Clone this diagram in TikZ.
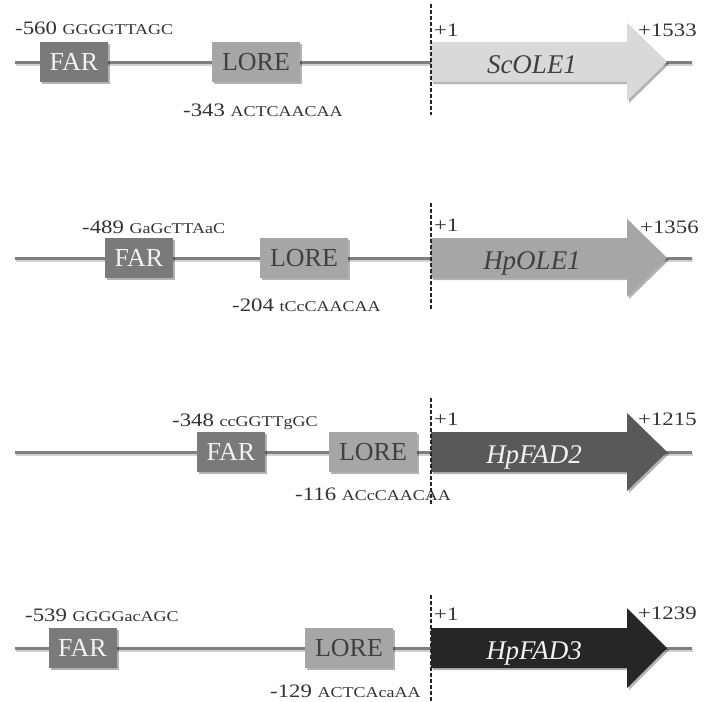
\documentclass[tikz,border=0pt]{standalone}
\usepackage{fontspec}
\setmainfont{Liberation Serif}
\newfontfamily\numfont[FakeStretch=1.2]{Liberation Serif}
\usetikzlibrary{shadows}
\definecolor{linegray}{HTML}{7F7F7F}
\definecolor{fargray}{HTML}{7A7A7A}
\definecolor{loregray}{HTML}{A6A6A6}
\definecolor{loretext}{HTML}{404040}
\definecolor{labtext}{HTML}{333333}
\definecolor{geneA}{HTML}{D9D9D9}
\definecolor{geneB}{HTML}{A6A6A6}
\definecolor{geneC}{HTML}{595959}
\definecolor{geneD}{HTML}{262626}
\newcommand{\seqtxt}[1]{{\fontsize{15}{15}\selectfont #1}}
\tikzset{
  x=1pt, y=-1pt,
  softshadow/.style={drop shadow={opacity=0.3, shadow xshift=2pt, shadow yshift=-2pt, fill=black}},
  backbone/.style={draw=linegray, line width=3pt,
    preaction={draw=black!18, line width=3pt, transform canvas={xshift=1pt, yshift=-2pt}}},
  farbox/.style={fill=fargray, minimum width=68pt, minimum height=40pt, inner sep=0pt,
    text=white!95!black, font=\fontsize{26}{26}\selectfont, softshadow},
  lorebox/.style={fill=loregray, minimum width=88pt, minimum height=40pt, inner sep=0pt,
    text=loretext, font=\fontsize{26}{26}\selectfont, softshadow},
  genearrow/.style={softshadow},
  genelabel/.style={font=\fontsize{27}{27}\selectfont\itshape, inner sep=0pt, anchor=base},
  poslabel/.style={anchor=base west, inner sep=0pt, text=labtext, font=\numfont\fontsize{19}{19}\selectfont},
  tssline/.style={draw=black!85, line width=1.1pt, dash pattern=on 4pt off 2pt}
}
\begin{document}
\begin{tikzpicture}
\useasboundingbox[fill=white] (0,0) rectangle (705,702);

% ---------- Row 1 ----------
\coordinate (s1) at (15,62); \coordinate (e1) at (692,62);
\draw[backbone] (s1) -- (e1);
\node[farbox] (far1) at (74,62) {FAR};
\node[lorebox] (lore1) at (256,62) {LORE};
\path[genearrow, fill=geneA] (431,42) -- (627,42) -- (627,23) -- (667,62) -- (627,101) -- (627,82) -- (431,82) -- cycle;
\node[genelabel, text=loretext] (gene1) at (532,73) {ScOLE1};
\node[poslabel] (farpos1) at (15,34) {-560 \seqtxt{GGGGTTAGC}};
\node[poslabel] (lorepos1) at (183,116.5) {-343 \seqtxt{ACTCAACAA}};
\node[poslabel] (tsslab1) at (434,36.5) {+1};
\node[poslabel] (endlab1) at (638,36.5) {+1533};
\coordinate (t1a) at (431,4); \coordinate (t1b) at (431,115);
\draw[tssline] (t1a) -- (t1b);

% ---------- Row 2 ----------
\coordinate (s2) at (15,258); \coordinate (e2) at (692,258);
\draw[backbone] (s2) -- (e2);
\node[farbox] (far2) at (139,258) {FAR};
\node[lorebox] (lore2) at (304,258) {LORE};
\path[genearrow, fill=geneB] (431,238) -- (627,238) -- (627,219) -- (667,258) -- (627,297) -- (627,278) -- (431,278) -- cycle;
\node[genelabel, text=loretext] (gene2) at (532,269) {HpOLE1};
\node[poslabel] (farpos2) at (82,233) {-489 \seqtxt{GaGcTTAaC}};
\node[poslabel] (lorepos2) at (232,311) {-204 \seqtxt{tCcCAACAA}};
\node[poslabel] (tsslab2) at (434,231.5) {+1};
\node[poslabel] (endlab2) at (640,233) {+1356};
\coordinate (t2a) at (431,203); \coordinate (t2b) at (431,309);
\draw[tssline] (t2a) -- (t2b);

% ---------- Row 3 ----------
\coordinate (s3) at (15,452); \coordinate (e3) at (692,452);
\draw[backbone] (s3) -- (e3);
\node[farbox] (far3) at (231,452) {FAR};
\node[lorebox] (lore3) at (373,452) {LORE};
\path[genearrow, fill=geneC] (431,432) -- (627,432) -- (627,413) -- (667,452) -- (627,491) -- (627,472) -- (431,472) -- cycle;
\node[genelabel, text=white!95!black] (gene3) at (534,463) {HpFAD2};
\node[poslabel] (farpos3) at (172,426.5) {-348 \seqtxt{ccGGTTgGC}};
\node[poslabel] (lorepos3) at (295,500) {-116 \seqtxt{ACcCAACAA}};
\node[poslabel] (tsslab3) at (434,425) {+1};
\node[poslabel] (endlab3) at (638,425) {+1215};
\coordinate (t3a) at (431,398); \coordinate (t3b) at (431,505);
\draw[tssline] (t3a) -- (t3b);

% ---------- Row 4 ----------
\coordinate (s4) at (15,648); \coordinate (e4) at (692,648);
\draw[backbone] (s4) -- (e4);
\node[farbox] (far4) at (82.5,648) {FAR};
\node[lorebox] (lore4) at (349,648) {LORE};
\path[genearrow, fill=geneD] (431,628) -- (627,628) -- (627,608) -- (667,648) -- (627,688) -- (627,668) -- (431,668) -- cycle;
\node[genelabel, text=white!95!black] (gene4) at (534,659) {HpFAD3};
\node[poslabel] (farpos4) at (25,621.5) {-539 \seqtxt{GGGGacAGC}};
\node[poslabel] (lorepos4) at (270,697) {-129 \seqtxt{ACTCAcaAA}};
\node[poslabel] (tsslab4) at (434,620) {+1};
\node[poslabel] (endlab4) at (638,619) {+1239};
\coordinate (t4a) at (431,595); \coordinate (t4b) at (431,702);
\draw[tssline] (t4a) -- (t4b);
\end{tikzpicture}
\end{document}
